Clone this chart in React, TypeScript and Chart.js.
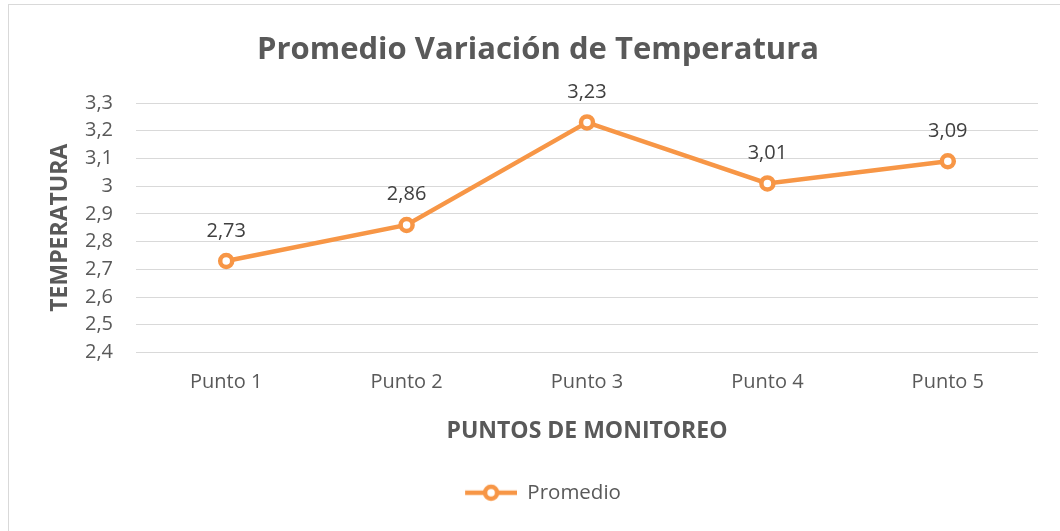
import React, { useEffect, useRef } from "react";
import { Chart, registerables } from "chart.js";

Chart.register(...registerables);

const categories = ["Punto 1", "Punto 2", "Punto 3", "Punto 4", "Punto 5"];
const promedio = [2.73, 2.86, 3.23, 3.01, 3.09];
const seriesName = "Promedio";
const chartTitle = "Promedio Variación de Temperatura";
const xTitle = "PUNTOS DE MONITOREO";
const yTitle = "TEMPERATURA";
const yMin = 2.4;
const yMax = 3.3;
const yStep = 0.1;

const ORANGE = "#F79646";
const GRAY = "#595959";
const GRID = "#D9D9D9";
const FONT = "'Open Sans', sans-serif";

const fmt = (v: number) => {
  const r = Math.round(v * 100) / 100;
  return String(r).replace(".", ",");
};

function legendIcon(): HTMLCanvasElement {
  const c = document.createElement("canvas");
  c.width = 62;
  c.height = 20;
  const ctx = c.getContext("2d")!;
  ctx.strokeStyle = ORANGE;
  ctx.lineWidth = 4.5;
  ctx.beginPath();
  ctx.moveTo(10, 10);
  ctx.lineTo(62, 10);
  ctx.stroke();
  ctx.beginPath();
  ctx.arc(36, 10, 6, 0, Math.PI * 2);
  ctx.fillStyle = "#fff";
  ctx.fill();
  ctx.stroke();
  return c;
}

const framePlugin = {
  id: "frame",
  beforeDraw(chart: any) {
    const { ctx, width, height } = chart;
    ctx.save();
    ctx.fillStyle = "#fff";
    ctx.fillRect(0, 0, width, height);
    ctx.strokeStyle = GRID;
    ctx.lineWidth = 1;
    ctx.strokeRect(8.5, 4.5, width + 20, height + 20);
    ctx.restore();
  },
};

const dataLabelPlugin = {
  id: "dataLabels",
  afterDatasetsDraw(chart: any) {
    const { ctx } = chart;
    const meta = chart.getDatasetMeta(0);
    const data = chart.data.datasets[0].data as number[];
    ctx.save();
    ctx.font = `20px ${FONT}`;
    ctx.fillStyle = "#404040";
    ctx.textAlign = "center";
    ctx.textBaseline = "alphabetic";
    meta.data.forEach((pt: any, i: number) => {
      ctx.fillText(fmt(data[i]), pt.x, pt.y - 24.5);
    });
    ctx.restore();
  },
};

export default function App() {
  const ref = useRef<HTMLCanvasElement>(null);
  useEffect(() => {
    document.body.style.margin = "0";
    const icon = legendIcon();
    const chart = new Chart(ref.current!, {
      type: "line",
      data: {
        labels: categories,
        datasets: [
          {
            label: seriesName,
            data: promedio,
            borderColor: ORANGE,
            borderWidth: 4.5,
            backgroundColor: "#fff",
            pointBackgroundColor: "#fff",
            pointBorderColor: ORANGE,
            pointBorderWidth: 4.5,
            pointRadius: 6,
            tension: 0,
          },
        ],
      },
      options: {
        animation: false,
        responsive: false,
        layout: { padding: { left: 38, right: 22, top: 0, bottom: 18 } },
        plugins: {
          title: {
            display: true,
            text: chartTitle,
            color: GRAY,
            font: { family: FONT, size: 31, weight: "bold", lineHeight: 1.2 },
            padding: { top: 31.4, bottom: 34.4 },
          },
          legend: {
            position: "bottom",
            labels: {
              color: GRAY,
              font: { family: FONT, size: 20.5 },
              usePointStyle: true,
              pointStyleWidth: 62,
              boxHeight: 20,
              padding: 10,
              generateLabels: () => [
                {
                  text: seriesName,
                  pointStyle: icon as any,
                  fillStyle: ORANGE,
                  strokeStyle: ORANGE,
                  lineWidth: 0,
                  hidden: false,
                  datasetIndex: 0,
                  fontColor: GRAY,
                } as any,
              ],
            },
          },
          tooltip: { enabled: false },
        },
        scales: {
          x: {
            type: "category",
            offset: true,
            grid: { display: false, drawTicks: false },
            border: { display: false },
            ticks: {
              color: GRAY,
              font: { family: FONT, size: 20 },
              padding: 18,
              maxRotation: 0,
            },
            title: {
              display: true,
              text: xTitle,
              color: GRAY,
              font: { family: FONT, size: 23, weight: "bold", lineHeight: 1.2 },
              padding: { top: 4, bottom: 27.2 },
            },
            afterFit: (s: any) => {
              s.height = 120;
            },
          },
          y: {
            min: yMin,
            max: yMax,
            grid: { color: GRID, lineWidth: 1, drawTicks: false },
            border: { display: false },
            ticks: {
              stepSize: yStep,
              color: GRAY,
              font: { family: FONT, size: 20 },
              padding: 23,
              callback: (v: any) => fmt(Number(v)),
            },
            title: {
              display: true,
              text: yTitle,
              color: GRAY,
              font: { family: FONT, size: 23, weight: "bold", lineHeight: 1.2 },
              padding: { top: 8.2, bottom: 4 },
            },
            afterFit: (s: any) => {
              s.width = 98;
            },
          },
        },
      },
      plugins: [framePlugin, dataLabelPlugin],
    });
    return () => chart.destroy();
  }, []);
  return <canvas ref={ref} width={1060} height={531} style={{ display: "block" }} />;
}
